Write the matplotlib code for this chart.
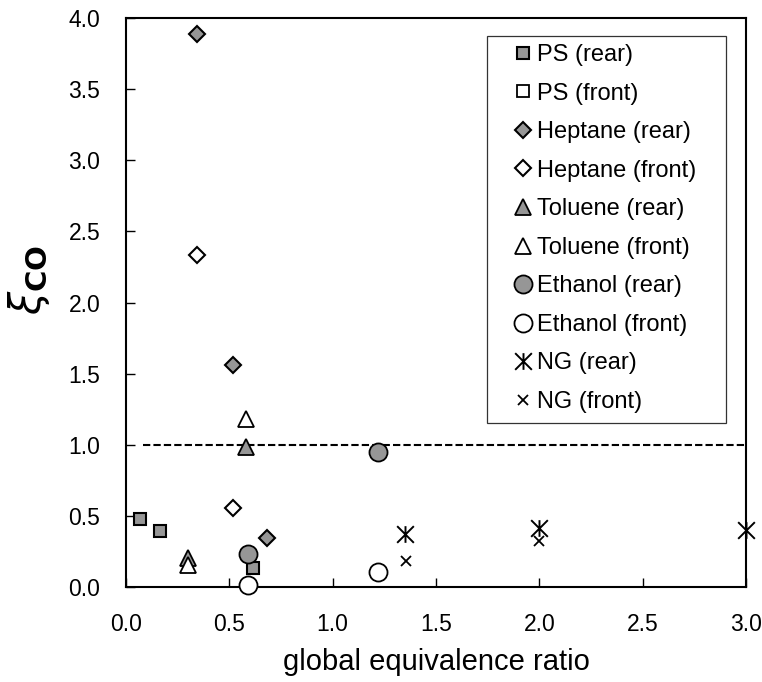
import matplotlib
matplotlib.use('Agg')
import matplotlib.pyplot as plt
from matplotlib.path import Path
from matplotlib.patches import Rectangle
import numpy as np

plt.rcParams['font.family'] = ['Liberation Sans', 'DejaVu Sans']

# values (global equivalence ratio, xi_CO)
ps_rear_x = [0.07, 0.165, 0.613]
ps_rear_y = [0.478, 0.394, 0.133]
ps_front_x = []
ps_front_y = []
hep_rear_x = [0.345, 0.519, 0.681]
hep_rear_y = [3.89, 1.56, 0.347]
hep_front_x = [0.345, 0.519]
hep_front_y = [2.335, 0.557]
tol_rear_x = [0.30, 0.579]
tol_rear_y = [0.203, 0.984]
tol_front_x = [0.30, 0.579]
tol_front_y = [0.152, 1.18]
eth_rear_x = [0.592, 1.217]
eth_rear_y = [0.231, 0.949]
eth_front_x = [0.592, 1.217]
eth_front_y = [0.016, 0.108]
ng_rear_x = [1.35, 2.0, 3.0]
ng_rear_y = [0.372, 0.414, 0.398]
ng_front_x = [1.356, 2.0]
ng_front_y = [0.184, 0.322]

ref_x = [0.08, 3.0]
ref_y = [1.0, 1.0]

gray = '#969696'

# excel style star: an x with a vertical bar through it
star = Path([(-1, -1), (1, 1), (-1, 1), (1, -1), (0, -1), (0, 1)],
            [Path.MOVETO, Path.LINETO, Path.MOVETO, Path.LINETO, Path.MOVETO, Path.LINETO])

fig = plt.figure(figsize=(7.62, 6.82), dpi=100)
ax = fig.add_axes([126 / 762, 1 - 587 / 682, 620 / 762, 569 / 682])

# reference line at xi = 1
ax.plot(ref_x, ref_y, color='black', lw=1.5, dashes=(3.5, 1.5), zorder=2)

kw = dict(ls='none', markeredgecolor='black', clip_on=False, zorder=3)
ax.plot(ps_rear_x, ps_rear_y, marker='s', ms=8.8, mfc=gray, mew=1.5, label='PS (rear)', **kw)
ax.plot(ps_front_x, ps_front_y, marker='s', ms=8.8, mfc='white', mew=1.3, label='PS (front)', **kw)
ax.plot(hep_rear_x, hep_rear_y, marker='D', ms=8.5, mfc=gray, mew=1.5, label='Heptane (rear)', **kw)
ax.plot(hep_front_x, hep_front_y, marker='D', ms=8.5, mfc='white', mew=1.5, label='Heptane (front)', **kw)
ax.plot(tol_rear_x, tol_rear_y, marker='^', ms=11.5, mfc=gray, mew=1.3, label='Toluene (rear)', **kw)
ax.plot(tol_front_x, tol_front_y, marker='^', ms=11.5, mfc='white', mew=1.3, label='Toluene (front)', **kw)
ax.plot(eth_rear_x, eth_rear_y, marker='o', ms=13, mfc=gray, mew=1.3, label='Ethanol (rear)', **kw)
ax.plot(eth_front_x, eth_front_y, marker='o', ms=13, mfc='white', mew=1.3, label='Ethanol (front)', **kw)
ax.plot(ng_rear_x, ng_rear_y, marker=star, ms=12, mew=1.4, color='black', label='NG (rear)', **kw)
ax.plot(ng_front_x, ng_front_y, marker='x', ms=7.2, mew=1.3, color='black', label='NG (front)', **kw)

ax.set_xlim(0, 3.0)
ax.set_ylim(0, 4.0)
ax.set_xticks(np.arange(0, 3.01, 0.5))
ax.set_yticks(np.arange(0, 4.01, 0.5))
ax.xaxis.set_major_formatter(matplotlib.ticker.FormatStrFormatter('%.1f'))
ax.yaxis.set_major_formatter(matplotlib.ticker.FormatStrFormatter('%.1f'))
ax.tick_params(direction='in', length=6.5, width=1.0, labelsize=16.5)
ax.tick_params(axis='x', pad=18.5)
ax.tick_params(axis='y', pad=18.5)
for sp in ax.spines.values():
    sp.set_linewidth(1.5)

ax.set_xlabel('global equivalence ratio', fontsize=21, labelpad=9)
fig.text(52 / 762, 1 - 280 / 682, r'$\xi_{\mathbf{CO}}$', fontsize=30,
         rotation=90, ha='right', va='center')

leg = ax.legend(loc='upper left', bbox_to_anchor=(0.6258, 0.954), fontsize=17,
                frameon=False, handlelength=0.8, handletextpad=0.18,
                labelspacing=0.70, borderpad=0, borderaxespad=0)
ax.add_patch(Rectangle((0.5823, 0.2877), 0.3855, 0.6807, transform=ax.transAxes,
                       fill=False, edgecolor='#333333', lw=0.9, zorder=4))

fig.savefig('out.png', dpi=100)
